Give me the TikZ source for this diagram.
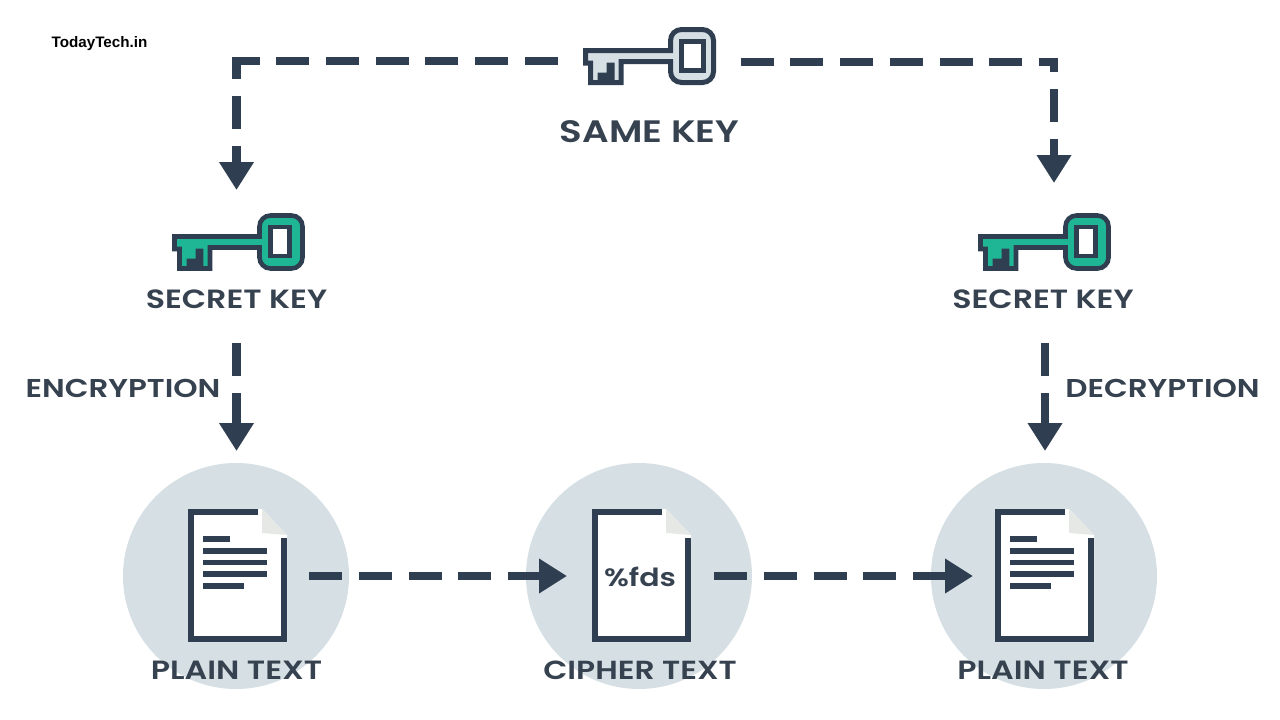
\documentclass[tikz,border=0pt]{standalone}
\usepackage{fontspec}
\setmainfont{Poppins SemiBold}[FakeStretch=1.2]
\newfontfamily\markfont{Liberation Sans}
\usetikzlibrary{arrows.meta}
\definecolor{ink}{HTML}{2F3E50}
\definecolor{wordink}{HTML}{36424F}
\definecolor{pale}{HTML}{D6E0E4}
\definecolor{teal}{HTML}{1FB696}
\definecolor{foldgrey}{HTML}{E6E8E6}
\tikzset{
  x=1pt,y=-1pt,
  dashline/.style={draw=ink,line width=8.5pt,line cap=butt,line join=miter},
  dashrun/.style={dashline,dash pattern=on 33pt off 16.7pt},
  tipped/.style={-{Triangle[length=28pt,width=33pt,sep=0pt]}},
  label/.style={font=\fontsize{#1}{#1}\selectfont,text=wordink,inner sep=0pt,anchor=center},
  keyline/.style={draw=ink,line width=#1,line join=miter},
  pagefill/.style={fill=white,draw=none},
  pageedge/.style={draw=ink,line width=6pt,line join=miter,line cap=butt},
  textbar/.style={draw=ink,line width=5.5pt,line cap=butt},
  disc/.style={circle,fill=pale,draw=none,minimum size=226pt,inner sep=0pt}
}
\newcommand{\keyicon}[5]{%
  \begin{scope}[shift={(#1,#2)}]
    \path[keyline=#4,fill=#3] (2.5,23.5) -- (87.5,23.5) [rounded corners=11pt] -- (87.5,2.5) -- (130.5,2.5) -- (130.5,55.5) -- (87.5,55.5) [sharp corners] -- (87.5,34.5) -- (38,34.5) -- (38,55.5) -- (29,55.5) -- (29,38) -- (26,38) -- (26,55.5) -- (22,55.5) -- (22,48) -- (17,48) -- (17,55.5) -- (7.5,55.5) -- (7.5,36) -- (2.5,36) -- cycle;
    \path[keyline=#4,fill=white] (98.5,14) rectangle (#5,43);
  \end{scope}}
\newcommand{\pageicon}[2]{%
  \begin{scope}[shift={(#1,#2)}]
    \path[pagefill] (0,0) -- (74,0) -- (99,26) -- (99,133) -- (0,133) -- cycle;
    \path[fill=foldgrey] (74,0) -- (99,26) -- (74,24) -- cycle;
    \draw[pageedge] (70,3) -- (3,3) -- (3,130) -- (96,130) -- (96,29);
  \end{scope}}
\newcommand{\pagebars}[2]{%
  \begin{scope}[shift={(#1,#2)}]
    \draw[textbar] (15,30) -- (42,30);
    \draw[textbar] (15,42) -- (79,42);
    \draw[textbar] (15,53.5) -- (79,53.5);
    \draw[textbar] (15,65) -- (79,65);
    \draw[textbar] (15,77) -- (56,77);
  \end{scope}}
\begin{document}
\begin{tikzpicture}
\useasboundingbox (0,0) rectangle (1280,720);
\fill[white] (0,0) rectangle (1280,720);

% discs
\node[disc] (discA) at (236,576) {};
\node[disc] (discB) at (639,576) {};
\node[disc] (discC) at (1044,576) {};

% documents
\pageicon{188}{509}\pagebars{188}{509}
\pageicon{592}{509}
\pageicon{995}{509}\pagebars{995}{509}

% keys
\keyicon{583}{27}{pale}{5pt}{120.5}
\keyicon{172}{213}{teal}{4.6pt}{117.5}
\keyicon{978}{213}{teal}{4.6pt}{117.5}

% labels
\node[font=\markfont\fontsize{15.2}{16}\selectfont\bfseries,text=black,inner sep=0pt] (brand) at (99.5,43.5) {TodayTech.in};
\node[label=31] (same) at (649.5,131.5) {SAME KEY};
\node[label=26.4] (secretA) at (236.5,299.5) {SECRET KEY};
\node[label=26.4] (secretB) at (1043,299.5) {SECRET KEY};
\node[label=25.8] (enc) at (123,388.5) {ENCRYPTION};
\node[label=25.8] (dec) at (1162.5,388.5) {DECRYPTION};
\node[label=26.4] (plainA) at (236.5,670.5) {PLAIN TEXT};
\node[label=26.2] (cipher) at (640,670.5) {CIPHER TEXT};
\node[label=26.4] (plainB) at (1043,670.5) {PLAIN TEXT};
\node[label=25] (fds) at (640,577) {\%fds};

% connector ends
\coordinate (tl) at (557.7,61);
\coordinate (tlc) at (232,61);
\coordinate (tlv) at (236.5,57);
\coordinate (tlt) at (236.5,190);
\coordinate (tr) at (740.7,62);
\coordinate (trc) at (1058,62);
\coordinate (trv) at (1054,58);
\coordinate (trt) at (1054,183);
\coordinate (ea) at (236.5,343);
\coordinate (eb) at (236.5,451);
\coordinate (da) at (1045,343);
\coordinate (db) at (1045,451);
\coordinate (pa) at (309.3,576);
\coordinate (pb) at (567,576);
\coordinate (qa) at (714.3,576);
\coordinate (qb) at (973,576);

\draw[dashline,dash pattern=on 33pt off 16.7pt on 33pt off 16.7pt on 33pt off 16.7pt on 33pt off 16.7pt on 33pt off 16.7pt on 33pt off 16.7pt on 33pt] (tl) -- (tlc);
\draw[dashline,tipped,dash pattern=on 22pt off 17pt on 33pt off 17pt on 60pt] (tlv) -- (tlt);
\draw[dashrun] (tr) -- (trc);
\draw[dashline,tipped,dash pattern=on 14pt off 17pt on 33pt off 17pt on 60pt] (trv) -- (trt);
\draw[dashline,tipped,dash pattern=on 33pt off 17pt on 80pt] (ea) -- (eb);
\draw[dashline,tipped,dash pattern=on 33pt off 17pt on 80pt] (da) -- (db);
\draw[dashline,tipped,dash pattern=on 33pt off 16.6pt on 33pt off 16.6pt on 33pt off 16.6pt on 33pt off 16.6pt on 80pt] (pa) -- (pb);
\draw[dashline,tipped,dash pattern=on 33pt off 16.7pt on 33pt off 16.7pt on 33pt off 16.7pt on 33pt off 16.7pt on 80pt] (qa) -- (qb);
\end{tikzpicture}
\end{document}
